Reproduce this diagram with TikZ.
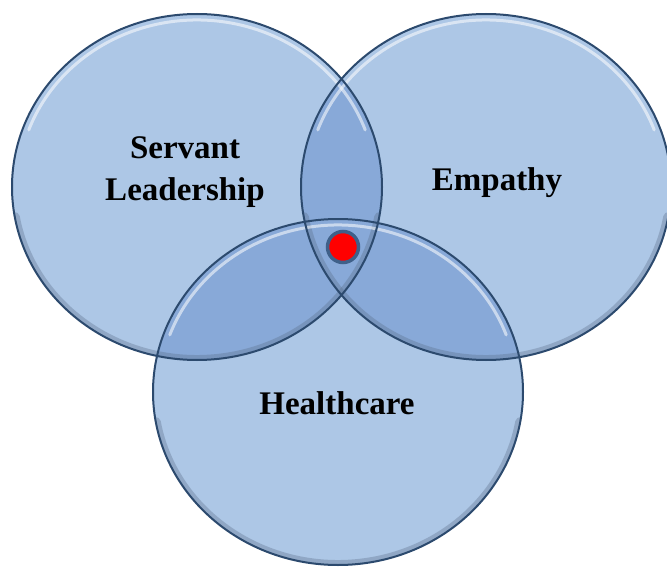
\documentclass[tikz,border=0pt]{standalone}
\usepackage{fontspec}
\setmainfont{Liberation Serif}
\usetikzlibrary{calc}
\begin{document}
\begin{tikzpicture}[x=1pt,y=-1pt]
\definecolor{ringfill}{HTML}{ADC7E6}
\definecolor{lensfill}{HTML}{88A9D8}
\definecolor{rimline}{HTML}{2C4A6E}
\definecolor{rimshade}{HTML}{5A6E88}
\definecolor{dotring}{HTML}{3F6089}
\tikzset{
  rim/.style={draw=rimline, line width=2pt},
  vennlabel/.style={font=\fontsize{33}{42}\selectfont\bfseries, align=center, text=black, inner sep=0pt},
  glint/.style={draw=white, line width=3pt, opacity=0.55, line cap=round},
  shade/.style={draw=rimshade, line width=10pt, opacity=0.35, line cap=round},
}
\useasboundingbox (0,0) rectangle (667,567);
% centres of the three sets
\coordinate (cSL) at (197,187);
\coordinate (cEM) at (486,187);
\coordinate (cHC) at (338,392);
\def\vrx{185pt}\def\vry{173pt}

% base fills
\foreach \c in {cSL,cEM,cHC}
  \fill[ringfill] (\c) ellipse [x radius=\vrx, y radius=\vry];

% pairwise overlaps
\begin{scope}
  \clip (cSL) ellipse [x radius=\vrx, y radius=\vry];
  \fill[lensfill] (cEM) ellipse [x radius=\vrx, y radius=\vry];
  \fill[lensfill] (cHC) ellipse [x radius=\vrx, y radius=\vry];
\end{scope}
\begin{scope}
  \clip (cEM) ellipse [x radius=\vrx, y radius=\vry];
  \fill[lensfill] (cHC) ellipse [x radius=\vrx, y radius=\vry];
\end{scope}

% bevel: soft shadow along the lower rim, light glint along the upper rim
\foreach \c in {cSL,cEM,cHC} {
  \begin{scope}
    \clip (\c) ellipse [x radius=\vrx, y radius=\vry];
    \draw[shade] ($(\c)+(190:185pt and 173pt)$) arc [start angle=190, end angle=350, x radius=\vrx, y radius=\vry];
  \end{scope}
  \draw[glint] ($(\c)+(20:179pt and 167pt)$) arc [start angle=20, end angle=160, x radius=179pt, y radius=167pt];
}

% outlines
\foreach \c in {cSL,cEM,cHC}
  \draw[rim] (\c) ellipse [x radius=\vrx, y radius=\vry];

% labels
\node[vennlabel] (tSL) at (185,172) {Servant\\Leadership};
\node[vennlabel] (tEM) at (497,183) {Empathy};
\node[vennlabel] (tHC) at (337,403) {Healthcare};

% common centre
\node[circle, fill=red, draw=dotring, line width=3.5pt, minimum size=31pt, inner sep=0pt] (core) at (343,247) {};
\end{tikzpicture}
\end{document}
